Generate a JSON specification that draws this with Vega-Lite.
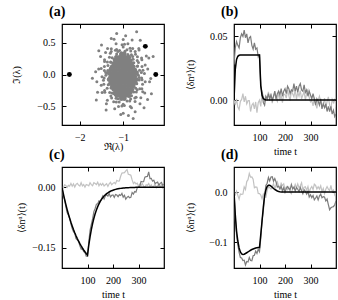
{
  "$schema": "https://vega.github.io/schema/vega-lite/v6.json",
  "padding": {"left": 10, "top": 3, "right": 0, "bottom": 0},
  "config": {
    "font": "Liberation Serif, DejaVu Serif, serif",
    "view": {"stroke": "black", "strokeWidth": 1.2},
    "axis": {"grid": false, "domain": false, "tickSize": -4, "tickColor": "black", "tickWidth": 1, "labelFont": "Liberation Serif, DejaVu Serif, serif", "labelFontSize": 10, "labelColor": "black", "labelPadding": 11, "titleFont": "Liberation Serif, DejaVu Serif, serif", "titleFontSize": 10, "titleFontWeight": "normal", "titleColor": "black"},
    "title": {"font": "Liberation Serif, DejaVu Serif, serif", "fontSize": 14, "fontWeight": "bold", "anchor": "start", "frame": "group", "dx": -13, "offset": 5, "color": "black"}
  },
  "columns": 2,
  "spacing": {"row": 42, "column": 70},
  "bounds": "flush",
  "concat": [
    {
      "width": 102, "height": 101,
      "title": "(a)",
      "layer": [
        {"data": {"name": "eigcore"}, "mark": {"type": "circle", "size": 21, "color": "#808080", "opacity": 1},
         "encoding": {
           "x": {"field": "re", "type": "quantitative", "scale": {"domain": [-2.41, -0.06], "nice": false, "zero": false}, "axis": {"values": [-2, -1], "format": "d", "title": "ℜ(λ)", "titleY": 21, "titleBaseline": "middle"}},
           "y": {"field": "im", "type": "quantitative", "scale": {"domain": [-0.79, 0.79], "nice": false, "zero": false}, "axis": {"values": [-0.5, 0, 0.5], "format": ".1f", "title": "ℑ(λ)", "titleX": -46, "titleBaseline": "middle"}}
         }},
        {"data": {"name": "eig"}, "mark": {"type": "circle", "size": 9, "color": "#808080", "opacity": 1},
         "encoding": {
           "x": {"field": "re", "type": "quantitative", "axis": null},
           "y": {"field": "im", "type": "quantitative", "axis": null}
         }},
        {"data": {"name": "eigb"}, "mark": {"type": "circle", "size": 24, "color": "black", "opacity": 1},
         "encoding": {
           "x": {"field": "re", "type": "quantitative", "axis": {"orient": "top", "values": [-2, -1], "labels": false, "title": null}},
           "y": {"field": "im", "type": "quantitative", "axis": {"orient": "right", "values": [-0.5, 0, 0.5], "labels": false, "title": null}}
         }}
      ],
      "resolve": {"axis": {"x": "independent", "y": "independent"}}
    },
    {
      "width": 102, "height": 101,
      "title": "(b)",
      "data": {"name": "ts"},
      "layer": [
        {"mark": {"type": "line", "color": "#c2c2c2", "strokeWidth": 1.2, "clip": true},
         "encoding": {
           "x": {"field": "t", "type": "quantitative", "scale": {"domain": [0, 400], "nice": false}, "axis": {"values": [100, 200, 300], "title": "time t", "titleY": 26, "titleBaseline": "middle"}},
           "y": {"field": "bl", "type": "quantitative", "scale": {"domain": [-0.0196, 0.0598], "nice": false, "zero": false}, "axis": {"values": [0, 0.05], "format": ".2f", "title": "⟨δnᵅ⟩(t)", "titleX": -44, "titleBaseline": "middle"}}
         }},
        {"mark": {"type": "line", "color": "#7c7c7c", "strokeWidth": 1.2, "clip": true},
         "encoding": {
           "x": {"field": "t", "type": "quantitative", "axis": null},
           "y": {"field": "bd", "type": "quantitative", "axis": null}
         }},
        {"mark": {"type": "line", "color": "black", "strokeWidth": 1.5, "clip": true},
         "encoding": {
           "x": {"field": "t", "type": "quantitative", "axis": {"orient": "top", "values": [100, 200, 300], "labels": false, "title": null}},
           "y": {"field": "tb", "type": "quantitative", "axis": {"orient": "right", "values": [0, 0.05], "labels": false, "title": null}}
         }}
      ],
      "resolve": {"axis": {"x": "independent", "y": "independent"}}
    },
    {
      "width": 102, "height": 101,
      "title": "(c)",
      "data": {"name": "ts"},
      "layer": [
        {"mark": {"type": "line", "color": "#c2c2c2", "strokeWidth": 1.2, "clip": true},
         "encoding": {
           "x": {"field": "t", "type": "quantitative", "scale": {"domain": [0, 400], "nice": false}, "axis": {"values": [100, 200, 300], "title": "time t", "titleY": 26, "titleBaseline": "middle"}},
           "y": {"field": "cl", "type": "quantitative", "scale": {"domain": [-0.2, 0.05], "nice": false, "zero": false}, "axis": {"values": [-0.15, 0], "format": ".2f", "title": "⟨δnᵅ⟩(t)", "titleX": -41, "titleBaseline": "middle"}}
         }},
        {"mark": {"type": "line", "color": "#7c7c7c", "strokeWidth": 1.2, "clip": true},
         "encoding": {
           "x": {"field": "t", "type": "quantitative", "axis": null},
           "y": {"field": "cd", "type": "quantitative", "axis": null}
         }},
        {"mark": {"type": "line", "color": "black", "strokeWidth": 1.5, "clip": true},
         "encoding": {
           "x": {"field": "t", "type": "quantitative", "axis": {"orient": "top", "values": [100, 200, 300], "labels": false, "title": null}},
           "y": {"field": "tc", "type": "quantitative", "axis": {"orient": "right", "values": [-0.15, 0], "labels": false, "title": null}}
         }}
      ],
      "resolve": {"axis": {"x": "independent", "y": "independent"}}
    },
    {
      "width": 102, "height": 101,
      "title": "(d)",
      "data": {"name": "ts"},
      "layer": [
        {"mark": {"type": "line", "color": "#c2c2c2", "strokeWidth": 1.2, "clip": true},
         "encoding": {
           "x": {"field": "t", "type": "quantitative", "scale": {"domain": [0, 400], "nice": false}, "axis": {"values": [100, 200, 300], "title": "time t", "titleY": 26, "titleBaseline": "middle"}},
           "y": {"field": "dl", "type": "quantitative", "scale": {"domain": [-0.152, 0.05], "nice": false, "zero": false}, "axis": {"values": [-0.1, 0], "format": ".1f", "title": "⟨δnᵅ⟩(t)", "titleX": -44, "titleBaseline": "middle"}}
         }},
        {"mark": {"type": "line", "color": "#7c7c7c", "strokeWidth": 1.2, "clip": true},
         "encoding": {
           "x": {"field": "t", "type": "quantitative", "axis": null},
           "y": {"field": "dd", "type": "quantitative", "axis": null}
         }},
        {"mark": {"type": "line", "color": "black", "strokeWidth": 1.5, "clip": true},
         "encoding": {
           "x": {"field": "t", "type": "quantitative", "axis": {"orient": "top", "values": [100, 200, 300], "labels": false, "title": null}},
           "y": {"field": "td", "type": "quantitative", "axis": {"orient": "right", "values": [-0.1, 0], "labels": false, "title": null}}
         }}
      ],
      "resolve": {"axis": {"x": "independent", "y": "independent"}}
    }
  ],
  "datasets": {
    "eigb": [{"re": -2.24, "im": 0}, {"re": -0.25, "im": 0}, {"re": -0.49, "im": 0.44}],
    "eigcore": [
      {"re": -1.29, "im": -0.03}, {"re": -1.22, "im": -0.03}, {"re": -1.15, "im": -0.03}, {"re": -1.08, "im": -0.03}, {"re": -1.01, "im": -0.03}, {"re": -0.94, "im": -0.03}, {"re": -0.87, "im": -0.03}, {"re": -0.80, "im": -0.03}, {"re": -0.73, "im": -0.03},
      {"re": -1.325, "im": 0.02}, {"re": -1.255, "im": 0.02}, {"re": -1.185, "im": 0.02}, {"re": -1.115, "im": 0.02}, {"re": -1.045, "im": 0.02}, {"re": -0.975, "im": 0.02}, {"re": -0.905, "im": 0.02}, {"re": -0.835, "im": 0.02}, {"re": -0.765, "im": 0.02}, {"re": -0.695, "im": 0.02},
      {"re": -1.325, "im": -0.08}, {"re": -1.255, "im": -0.08}, {"re": -1.185, "im": -0.08}, {"re": -1.115, "im": -0.08}, {"re": -1.045, "im": -0.08}, {"re": -0.975, "im": -0.08}, {"re": -0.905, "im": -0.08}, {"re": -0.835, "im": -0.08}, {"re": -0.765, "im": -0.08}, {"re": -0.695, "im": -0.08},
      {"re": -1.29, "im": 0.07}, {"re": -1.22, "im": 0.07}, {"re": -1.15, "im": 0.07}, {"re": -1.08, "im": 0.07}, {"re": -1.01, "im": 0.07}, {"re": -0.94, "im": 0.07}, {"re": -0.87, "im": 0.07}, {"re": -0.80, "im": 0.07}, {"re": -0.73, "im": 0.07},
      {"re": -1.29, "im": -0.13}, {"re": -1.22, "im": -0.13}, {"re": -1.15, "im": -0.13}, {"re": -1.08, "im": -0.13}, {"re": -1.01, "im": -0.13}, {"re": -0.94, "im": -0.13}, {"re": -0.87, "im": -0.13}, {"re": -0.80, "im": -0.13}, {"re": -0.73, "im": -0.13},
      {"re": -1.255, "im": 0.12}, {"re": -1.185, "im": 0.12}, {"re": -1.115, "im": 0.12}, {"re": -1.045, "im": 0.12}, {"re": -0.975, "im": 0.12}, {"re": -0.905, "im": 0.12}, {"re": -0.835, "im": 0.12}, {"re": -0.765, "im": 0.12},
      {"re": -1.255, "im": -0.18}, {"re": -1.185, "im": -0.18}, {"re": -1.115, "im": -0.18}, {"re": -1.045, "im": -0.18}, {"re": -0.975, "im": -0.18}, {"re": -0.905, "im": -0.18}, {"re": -0.835, "im": -0.18}, {"re": -0.765, "im": -0.18},
      {"re": -1.22, "im": 0.17}, {"re": -1.15, "im": 0.17}, {"re": -1.08, "im": 0.17}, {"re": -1.01, "im": 0.17}, {"re": -0.94, "im": 0.17}, {"re": -0.87, "im": 0.17}, {"re": -0.80, "im": 0.17},
      {"re": -1.22, "im": -0.23}, {"re": -1.15, "im": -0.23}, {"re": -1.08, "im": -0.23}, {"re": -1.01, "im": -0.23}, {"re": -0.94, "im": -0.23}, {"re": -0.87, "im": -0.23}, {"re": -0.80, "im": -0.23},
      {"re": -1.185, "im": 0.22}, {"re": -1.115, "im": 0.22}, {"re": -1.045, "im": 0.22}, {"re": -0.975, "im": 0.22}, {"re": -0.905, "im": 0.22}, {"re": -0.835, "im": 0.22},
      {"re": -1.185, "im": -0.28}, {"re": -1.115, "im": -0.28}, {"re": -1.045, "im": -0.28}, {"re": -0.975, "im": -0.28}, {"re": -0.905, "im": -0.28}, {"re": -0.835, "im": -0.28},
      {"re": -1.15, "im": 0.27}, {"re": -1.08, "im": 0.27}, {"re": -1.01, "im": 0.27}, {"re": -0.94, "im": 0.27}, {"re": -0.87, "im": 0.27},
      {"re": -1.15, "im": -0.33}, {"re": -1.08, "im": -0.33}, {"re": -1.01, "im": -0.33}, {"re": -0.94, "im": -0.33}, {"re": -0.87, "im": -0.33},
      {"re": -1.045, "im": 0.32}, {"re": -0.975, "im": 0.32}, {"re": -1.045, "im": -0.38}, {"re": -0.975, "im": -0.38}
    ],
    "eig": [
      {"re": -0.675, "im": 0.04}, {"re": -0.674, "im": 0.131}, {"re": -0.755, "im": 0.183}, {"re": -0.782, "im": 0.282}, {"re": -0.882, "im": 0.288}, {"re": -0.963, "im": 0.335}, {"re": -1.049, "im": 0.292}, {"re": -1.151, "im": 0.319}, {"re": -1.207, "im": 0.238}, {"re": -1.289, "im": 0.194}, {"re": -1.294, "im": 0.1}, {"re": -1.369, "im": 0.028}, {"re": -1.325, "im": -0.06}, {"re": -1.326, "im": -0.151}, {"re": -1.245, "im": -0.203}, {"re": -1.218, "im": -0.302}, {"re": -1.118, "im": -0.308}, {"re": -1.037, "im": -0.355}, {"re": -0.951, "im": -0.312}, {"re": -0.849, "im": -0.339}, {"re": -0.793, "im": -0.258}, {"re": -0.711, "im": -0.214}, {"re": -0.706, "im": -0.12}, {"re": -0.631, "im": -0.048},
      {"re": -0.65, "im": -0.01}, {"re": -0.623, "im": 0.068}, {"re": -0.668, "im": 0.134}, {"re": -0.677, "im": 0.218}, {"re": -0.771, "im": 0.238}, {"re": -0.811, "im": 0.308}, {"re": -0.892, "im": 0.313}, {"re": -0.96, "im": 0.362}, {"re": -1.038, "im": 0.342}, {"re": -1.123, "im": 0.359}, {"re": -1.172, "im": 0.279}, {"re": -1.253, "im": 0.263}, {"re": -1.283, "im": 0.19}, {"re": -1.352, "im": 0.142}, {"re": -1.356, "im": 0.064}, {"re": -1.399, "im": -0.01}, {"re": -1.336, "im": -0.079}, {"re": -1.345, "im": -0.159}, {"re": -1.283, "im": -0.21}, {"re": -1.258, "im": -0.288}, {"re": -1.182, "im": -0.316}, {"re": -1.123, "im": -0.379}, {"re": -1.036, "im": -0.341}, {"re": -0.961, "im": -0.375}, {"re": -0.892, "im": -0.333}, {"re": -0.808, "im": -0.334}, {"re": -0.757, "im": -0.273}, {"re": -0.677, "im": -0.238}, {"re": -0.687, "im": -0.146}, {"re": -0.63, "im": -0.086},
      {"re": -0.582, "im": 0.033}, {"re": -0.567, "im": 0.127}, {"re": -0.648, "im": 0.187}, {"re": -0.672, "im": 0.277}, {"re": -0.724, "im": 0.359}, {"re": -0.826, "im": 0.369}, {"re": -0.913, "im": 0.389}, {"re": -1.0, "im": 0.432}, {"re": -1.084, "im": 0.376}, {"re": -1.179, "im": 0.381}, {"re": -1.276, "im": 0.359}, {"re": -1.317, "im": 0.268}, {"re": -1.364, "im": 0.194}, {"re": -1.433, "im": 0.127}, {"re": -1.404, "im": 0.031}, {"re": -1.439, "im": -0.055}, {"re": -1.446, "im": -0.151}, {"re": -1.37, "im": -0.217}, {"re": -1.312, "im": -0.283}, {"re": -1.267, "im": -0.368}, {"re": -1.165, "im": -0.37}, {"re": -1.092, "im": -0.429}, {"re": -1.0, "im": -0.466}, {"re": -0.911, "im": -0.416}, {"re": -0.829, "im": -0.383}, {"re": -0.733, "im": -0.368}, {"re": -0.698, "im": -0.274}, {"re": -0.618, "im": -0.224}, {"re": -0.554, "im": -0.151}, {"re": -0.575, "im": -0.053},
      {"re": -0.545, "im": 0.068}, {"re": -0.57, "im": 0.231}, {"re": -0.717, "im": 0.318}, {"re": -0.842, "im": 0.412}, {"re": -0.97, "im": 0.473}, {"re": -1.151, "im": 0.393}, {"re": -1.297, "im": 0.334}, {"re": -1.43, "im": 0.231}, {"re": -1.434, "im": 0.064}, {"re": -1.455, "im": -0.088}, {"re": -1.43, "im": -0.251}, {"re": -1.284, "im": -0.338}, {"re": -1.158, "im": -0.432}, {"re": -1.03, "im": -0.493}, {"re": -0.849, "im": -0.413}, {"re": -0.703, "im": -0.354}, {"re": -0.55, "im": -0.27}, {"re": -0.566, "im": -0.084},
      {"re": -0.511, "im": 0.015}, {"re": -0.494, "im": 0.15}, {"re": -0.577, "im": 0.257}, {"re": -0.635, "im": 0.384}, {"re": -0.781, "im": 0.408}, {"re": -0.892, "im": 0.482}, {"re": -1.026, "im": 0.465}, {"re": -1.164, "im": 0.482}, {"re": -1.274, "im": 0.401}, {"re": -1.406, "im": 0.345}, {"re": -1.43, "im": 0.203}, {"re": -1.507, "im": 0.095}, {"re": -1.489, "im": -0.035}, {"re": -1.506, "im": -0.17}, {"re": -1.423, "im": -0.277}, {"re": -1.365, "im": -0.404}, {"re": -1.219, "im": -0.428}, {"re": -1.108, "im": -0.502}, {"re": -0.974, "im": -0.485}, {"re": -0.836, "im": -0.502}, {"re": -0.726, "im": -0.421}, {"re": -0.594, "im": -0.365}, {"re": -0.57, "im": -0.223}, {"re": -0.493, "im": -0.115},
      {"re": -0.435, "im": 0.087}, {"re": -0.467, "im": 0.289}, {"re": -0.64, "im": 0.407}, {"re": -0.794, "im": 0.54}, {"re": -1.0, "im": 0.548}, {"re": -1.211, "im": 0.552}, {"re": -1.36, "im": 0.407}, {"re": -1.521, "im": 0.282}, {"re": -1.565, "im": 0.087}, {"re": -1.607, "im": -0.114}, {"re": -1.485, "im": -0.282}, {"re": -1.387, "im": -0.458}, {"re": -1.196, "im": -0.534}, {"re": -1.0, "im": -0.608}, {"re": -0.809, "im": -0.521}, {"re": -0.613, "im": -0.458}, {"re": -0.503, "im": -0.289}, {"re": -0.393, "im": -0.114},
      {"re": -0.41, "im": 0.257}, {"re": -0.607, "im": 0.536}, {"re": -0.944, "im": 0.606}, {"re": -1.275, "im": 0.563}, {"re": -1.562, "im": 0.372}, {"re": -1.635, "im": 0.044}, {"re": -1.59, "im": -0.277}, {"re": -1.393, "im": -0.556}, {"re": -1.056, "im": -0.626}, {"re": -0.725, "im": -0.583}, {"re": -0.438, "im": -0.392}, {"re": -0.365, "im": -0.064},
      {"re": -0.69, "im": 0.67}, {"re": -0.77, "im": -0.69}, {"re": -1.71, "im": -0.06}, {"re": -0.31, "im": 0.28}, {"re": -0.35, "im": -0.3}, {"re": -1.15, "im": 0.64}, {"re": -0.88, "im": -0.64}, {"re": -1.5, "im": 0.46}, {"re": -0.52, "im": -0.52}, {"re": -1.62, "im": -0.4}
    ],
    "ts": [
      {"t": 0, "tb": 0, "bl": 0, "bd": 0.028, "tc": 0, "cl": 0, "cd": 0, "td": 0, "dl": 0, "dd": 0},
      {"t": 5, "tb": 0.0241, "bl": -0.004, "bd": 0.041, "tc": -0.0152, "cl": -0.002, "cd": -0.0212, "td": -0.045, "dl": -0.0055, "dd": -0.052},
      {"t": 10, "tb": 0.0319, "bl": 0.001, "bd": 0.046, "tc": -0.0294, "cl": 0.006, "cd": -0.0302, "td": -0.078, "dl": 0.0016, "dd": -0.086},
      {"t": 15, "tb": 0.0344, "bl": -0.0055, "bd": 0.043, "tc": -0.0426, "cl": 0.0045, "cd": -0.0474, "td": -0.098, "dl": -0.0067, "dd": -0.106},
      {"t": 20, "tb": 0.0352, "bl": -0.0075, "bd": 0.041, "tc": -0.0549, "cl": -0.0005, "cd": -0.0625, "td": -0.112, "dl": -0.0143, "dd": -0.121},
      {"t": 25, "tb": 0.0354, "bl": -0.001, "bd": 0.049, "tc": -0.0664, "cl": 0.0045, "cd": -0.0688, "td": -0.12, "dl": -0.0038, "dd": -0.131},
      {"t": 30, "tb": 0.0355, "bl": 0.0005, "bd": 0.052, "tc": -0.077, "cl": 0.0025, "cd": -0.077, "td": -0.124, "dl": -0.0046, "dd": -0.132},
      {"t": 35, "tb": 0.0355, "bl": 0.005, "bd": 0.05, "tc": -0.087, "cl": 0.0095, "cd": -0.0906, "td": -0.125, "dl": -0.0041, "dd": -0.137},
      {"t": 40, "tb": 0.0355, "bl": -0.0015, "bd": 0.055, "tc": -0.0962, "cl": 0.0025, "cd": -0.1026, "td": -0.1245, "dl": 0.0103, "dd": -0.1365},
      {"t": 45, "tb": 0.0355, "bl": 0.003, "bd": 0.049, "tc": -0.1048, "cl": 0.008, "cd": -0.11, "td": -0.123, "dl": 0.0051, "dd": -0.146},
      {"t": 50, "tb": 0.0355, "bl": -0.003, "bd": 0.052, "tc": -0.1128, "cl": 0.0005, "cd": -0.114, "td": -0.1215, "dl": 0.0208, "dd": -0.139},
      {"t": 55, "tb": 0.0355, "bl": -0.0005, "bd": 0.045, "tc": -0.1203, "cl": 0.007, "cd": -0.1275, "td": -0.12, "dl": 0.0246, "dd": -0.14},
      {"t": 60, "tb": 0.0355, "bl": -0.0005, "bd": 0.049, "tc": -0.1272, "cl": 0.0095, "cd": -0.1304, "td": -0.118, "dl": 0.0369, "dd": -0.131},
      {"t": 65, "tb": 0.0355, "bl": -0.009, "bd": 0.05, "tc": -0.1337, "cl": 0.005, "cd": -0.1341, "td": -0.1165, "dl": 0.0298, "dd": -0.137},
      {"t": 70, "tb": 0.0355, "bl": -0.004, "bd": 0.043, "tc": -0.1397, "cl": 0.003, "cd": -0.1453, "td": -0.115, "dl": 0.03, "dd": -0.1375},
      {"t": 75, "tb": 0.0355, "bl": -0.0025, "bd": 0.04, "tc": -0.1453, "cl": 0.011, "cd": -0.1533, "td": -0.114, "dl": 0.0255, "dd": -0.1275},
      {"t": 80, "tb": 0.0355, "bl": -0.007, "bd": 0.045, "tc": -0.1505, "cl": 0.003, "cd": -0.1525, "td": -0.113, "dl": 0.0084, "dd": -0.1265},
      {"t": 85, "tb": 0.0355, "bl": -0.0015, "bd": 0.04, "tc": -0.1554, "cl": 0.0065, "cd": -0.1594, "td": -0.112, "dl": 0.0101, "dd": -0.118},
      {"t": 90, "tb": 0.0355, "bl": -0.01, "bd": 0.041, "tc": -0.1599, "cl": 0.0, "cd": -0.1615, "td": -0.1115, "dl": 0.0096, "dd": -0.123},
      {"t": 95, "tb": 0.0355, "bl": -0.002, "bd": 0.034, "tc": -0.1641, "cl": 0.0065, "cd": -0.1709, "td": -0.111, "dl": -0.0028, "dd": -0.1145},
      {"t": 100, "tb": 0.0355, "bl": 0.0, "bd": 0.036, "tc": -0.168, "cl": 0.0055, "cd": -0.1708, "td": -0.111, "dl": -0.0033, "dd": -0.1195},
      {"t": 105, "tb": 0.0114, "bl": -0.005, "bd": 0.011, "tc": -0.1437, "cl": 0.0035, "cd": -0.1358, "td": -0.085, "dl": -0.0059, "dd": -0.0925},
      {"t": 110, "tb": 0.0037, "bl": 0.006, "bd": 0.006, "tc": -0.1229, "cl": 0.011, "cd": -0.1068, "td": -0.058, "dl": -0.0135, "dd": -0.0565},
      {"t": 115, "tb": 0.0012, "bl": 0.0035, "bd": -0.002, "tc": -0.1051, "cl": 0.0065, "cd": -0.092, "td": -0.03, "dl": -0.0044, "dd": -0.038},
      {"t": 120, "tb": 0.0004, "bl": -0.0015, "bd": -0.004, "tc": -0.0899, "cl": 0.0035, "cd": -0.0786, "td": -0.008, "dl": -0.0094, "dd": -0.007},
      {"t": 125, "tb": 0, "bl": 0.0025, "bd": 0.003, "tc": -0.0769, "cl": 0.011, "cd": -0.0604, "td": 0.004, "dl": -0.0103, "dd": 0.013},
      {"t": 130, "tb": 0, "bl": 0.0005, "bd": 0.001, "tc": -0.0658, "cl": 0.009, "cd": -0.0526, "td": 0.011, "dl": 0.0028, "dd": 0.0175},
      {"t": 135, "tb": 0, "bl": 0.0065, "bd": 0.005, "tc": -0.0563, "cl": 0.0065, "cd": -0.042, "td": 0.0135, "dl": 0.011, "dd": 0.029},
      {"t": 140, "tb": 0, "bl": -0.0005, "bd": 0.001, "tc": -0.0481, "cl": 0.0125, "cd": -0.0412, "td": 0.0135, "dl": 0.0087, "dd": 0.022},
      {"t": 145, "tb": 0, "bl": 0.005, "bd": 0.004, "tc": -0.0412, "cl": 0.0035, "cd": -0.0336, "td": 0.012, "dl": 0.0058, "dd": 0.03},
      {"t": 150, "tb": 0, "bl": -0.0025, "bd": 0.0, "tc": -0.0352, "cl": 0.009, "cd": -0.0354, "td": 0.0095, "dl": 0.0099, "dd": 0.0305},
      {"t": 155, "tb": 0, "bl": 0.003, "bd": 0.003, "tc": -0.0301, "cl": 0.005, "cd": -0.0285, "td": 0.007, "dl": 0.0169, "dd": 0.0215},
      {"t": 160, "tb": 0, "bl": 0.0055, "bd": 0.007, "tc": -0.0258, "cl": 0.0095, "cd": -0.0215, "td": 0.005, "dl": 0.0064, "dd": 0.027},
      {"t": 165, "tb": 0, "bl": 0.001, "bd": 0.001, "tc": -0.022, "cl": 0.003, "cd": -0.029, "td": 0.0035, "dl": 0.0144, "dd": 0.02},
      {"t": 170, "tb": 0, "bl": -0.001, "bd": 0.005, "tc": -0.0189, "cl": 0.006, "cd": -0.022, "td": 0.002, "dl": 0.0203, "dd": 0.01},
      {"t": 175, "tb": 0, "bl": 0.007, "bd": 0.007, "tc": -0.0161, "cl": 0.0085, "cd": -0.0185, "td": 0.001, "dl": 0.0122, "dd": 0.0115},
      {"t": 180, "tb": 0, "bl": 0.0, "bd": 0.004, "tc": -0.0138, "cl": 0.002, "cd": -0.022, "td": 0.0005, "dl": 0.008, "dd": 0.006},
      {"t": 185, "tb": 0, "bl": 0.0035, "bd": 0.009, "tc": -0.0118, "cl": 0.0085, "cd": -0.0155, "td": 0.0002, "dl": 0.0175, "dd": 0.0115},
      {"t": 190, "tb": 0, "bl": -0.002, "bd": 0.003, "tc": -0.0101, "cl": 0.012, "cd": -0.024, "td": 0, "dl": 0.013, "dd": 0.002},
      {"t": 195, "tb": 0, "bl": 0.0045, "bd": 0.007, "tc": -0.0086, "cl": 0.006, "cd": -0.02, "td": 0, "dl": 0.0162, "dd": 0.0085},
      {"t": 200, "tb": 0, "bl": 0.0045, "bd": 0.009, "tc": -0.0074, "cl": 0.0095, "cd": -0.019, "td": 0, "dl": 0.0051, "dd": -0.0005},
      {"t": 205, "tb": 0, "bl": 0.0015, "bd": 0.005, "tc": -0.0063, "cl": 0.0115, "cd": -0.025, "td": 0, "dl": 0.0101, "dd": 0.007},
      {"t": 210, "tb": 0, "bl": 0.008, "bd": 0.011, "tc": -0.0054, "cl": 0.0085, "cd": -0.018, "td": 0, "dl": 0.0046, "dd": 0.011},
      {"t": 215, "tb": 0, "bl": 0.0035, "bd": 0.009, "tc": -0.0046, "cl": 0.017, "cd": -0.0195, "td": 0, "dl": 0.0096, "dd": 0.007},
      {"t": 220, "tb": 0, "bl": -0.0005, "bd": 0.005, "tc": -0.004, "cl": 0.015, "cd": -0.0235, "td": 0, "dl": -0.0005, "dd": 0.0045},
      {"t": 225, "tb": 0, "bl": 0.007, "bd": 0.008, "tc": -0.0034, "cl": 0.0155, "cd": -0.0185, "td": 0, "dl": -0.0033, "dd": 0.015},
      {"t": 230, "tb": 0, "bl": 0.005, "bd": 0.007, "tc": -0.0029, "cl": 0.027, "cd": -0.0205, "td": 0, "dl": 0.0068, "dd": 0.0065},
      {"t": 235, "tb": 0, "bl": 0.0025, "bd": 0.013, "tc": -0.0025, "cl": 0.035, "cd": -0.0155, "td": 0, "dl": 0.0067, "dd": 0.01},
      {"t": 240, "tb": 0, "bl": 0.0085, "bd": 0.007, "tc": -0.0021, "cl": 0.0355, "cd": -0.0245, "td": 0, "dl": 0.015, "dd": 0.002},
      {"t": 245, "tb": 0, "bl": 0.0005, "bd": 0.011, "tc": -0.0018, "cl": 0.036, "cd": -0.02, "td": 0, "dl": 0.0079, "dd": 0.009},
      {"t": 250, "tb": 0, "bl": 0.006, "bd": 0.006, "tc": -0.0015, "cl": 0.0405, "cd": -0.0295, "td": 0, "dl": 0.0162, "dd": 0.0055},
      {"t": 255, "tb": 0, "bl": 0.003, "bd": 0.011, "tc": -0.0013, "cl": 0.0435, "cd": -0.025, "td": 0, "dl": 0.0088, "dd": 0.001},
      {"t": 260, "tb": 0, "bl": 0.0075, "bd": 0.013, "tc": -0.0011, "cl": 0.032, "cd": -0.0225, "td": 0, "dl": 0.0123, "dd": 0.009},
      {"t": 265, "tb": 0, "bl": 0.001, "bd": 0.008, "tc": -0.001, "cl": 0.031, "cd": -0.026, "td": 0, "dl": 0.0183, "dd": 0.0025},
      {"t": 270, "tb": 0, "bl": 0.004, "bd": 0.007, "tc": -0.0008, "cl": 0.0295, "cd": -0.025, "td": 0, "dl": 0.0044, "dd": -0.0035},
      {"t": 275, "tb": 0, "bl": 0.0065, "bd": 0.012, "tc": -0.0007, "cl": 0.018, "cd": -0.013, "td": 0, "dl": 0.0094, "dd": 0.0045},
      {"t": 280, "tb": 0, "bl": 0.0, "bd": 0.006, "tc": -0.0006, "cl": 0.009, "cd": -0.017, "td": 0, "dl": 0.0105, "dd": 0.0012},
      {"t": 285, "tb": 0, "bl": 0.0055, "bd": 0.008, "tc": -0.0005, "cl": 0.0125, "cd": -0.0105, "td": 0, "dl": 0.0032, "dd": -0.004},
      {"t": 290, "tb": 0, "bl": 0.008, "bd": 0.003, "tc": -0.0004, "cl": 0.008, "cd": -0.012, "td": 0, "dl": 0.0109, "dd": 0.0014},
      {"t": 295, "tb": 0, "bl": 0.002, "bd": 0.007, "tc": -0.0004, "cl": 0.01, "cd": -0.0015, "td": 0, "dl": -0.001, "dd": -0.01},
      {"t": 300, "tb": 0, "bl": -0.0015, "bd": 0.004, "tc": -0.0003, "cl": 0.0025, "cd": 0.0005, "td": 0, "dl": 0.007, "dd": -0.0056},
      {"t": 305, "tb": 0, "bl": -0.0005, "bd": 0.001, "tc": -0.0003, "cl": 0.0075, "cd": 0.0025, "td": 0, "dl": 0.0108, "dd": -0.0112},
      {"t": 310, "tb": 0, "bl": -0.0045, "bd": 0.005, "tc": -0.0002, "cl": 0.004, "cd": 0.014, "td": 0, "dl": 0.0048, "dd": -0.0068},
      {"t": 315, "tb": 0, "bl": 0.002, "bd": 0.001, "tc": -0.0002, "cl": 0.009, "cd": 0.0135, "td": 0, "dl": 0.0156, "dd": -0.0156},
      {"t": 320, "tb": 0, "bl": -0.003, "bd": -0.004, "tc": -0.0002, "cl": 0.0025, "cd": 0.0135, "td": 0, "dl": 0.0131, "dd": -0.012},
      {"t": 325, "tb": 0, "bl": -0.0065, "bd": 0.001, "tc": -0.0001, "cl": -0.0005, "cd": 0.025, "td": 0, "dl": 0.0061, "dd": -0.008},
      {"t": 330, "tb": 0, "bl": 0.0, "bd": -0.001, "tc": 0, "cl": 0.006, "cd": 0.026, "td": 0, "dl": 0.0107, "dd": -0.0158},
      {"t": 335, "tb": 0, "bl": 0.003, "bd": -0.004, "tc": 0, "cl": 0.0045, "cd": 0.0265, "td": 0, "dl": 0.0059, "dd": -0.0082},
      {"t": 340, "tb": 0, "bl": -0.0015, "bd": 0.001, "tc": 0, "cl": 0.009, "cd": 0.038, "td": 0, "dl": 0.0123, "dd": -0.0042},
      {"t": 345, "tb": 0, "bl": -0.005, "bd": -0.007, "tc": 0, "cl": 0.0015, "cd": 0.0215, "td": 0, "dl": 0.0005, "dd": -0.0114},
      {"t": 350, "tb": 0, "bl": -0.0035, "bd": -0.003, "tc": 0, "cl": 0.006, "cd": 0.022, "td": 0, "dl": 0.0072, "dd": -0.0094},
      {"t": 355, "tb": 0, "bl": 0.0015, "bd": -0.006, "tc": 0, "cl": 0.0, "cd": 0.015, "td": 0, "dl": -0.0033, "dd": -0.0102},
      {"t": 360, "tb": 0, "bl": -0.006, "bd": -0.003, "tc": 0, "cl": 0.0025, "cd": 0.0175, "td": 0, "dl": 0.0054, "dd": -0.018},
      {"t": 365, "tb": 0, "bl": -0.001, "bd": -0.009, "tc": 0, "cl": 0.0075, "cd": 0.009, "td": 0, "dl": 0.0109, "dd": -0.0142},
      {"t": 370, "tb": 0, "bl": 0.0025, "bd": -0.005, "tc": 0, "cl": -0.001, "cd": 0.011, "td": 0, "dl": 0.0056, "dd": -0.0252},
      {"t": 375, "tb": 0, "bl": -0.004, "bd": -0.009, "tc": 0, "cl": 0.004, "cd": 0.0125, "td": 0, "dl": 0.0028, "dd": -0.0354},
      {"t": 380, "tb": 0, "bl": -0.007, "bd": -0.005, "tc": 0, "cl": 0.0055, "cd": 0.005, "td": 0, "dl": 0.013, "dd": -0.0316},
      {"t": 385, "tb": 0, "bl": 0.0005, "bd": -0.011, "tc": 0, "cl": 0.001, "cd": 0.0095, "td": 0, "dl": 0.0012, "dd": -0.03},
      {"t": 390, "tb": 0, "bl": -0.002, "bd": -0.008, "tc": 0, "cl": 0.0065, "cd": 0.012, "td": 0, "dl": 0.0041, "dd": -0.0294},
      {"t": 395, "tb": 0, "bl": 0.001, "bd": -0.013, "tc": 0, "cl": -0.002, "cd": 0.005, "td": 0, "dl": -0.0056, "dd": -0.0256},
      {"t": 400, "tb": 0, "bl": -0.0055, "bd": -0.011, "tc": 0, "cl": 0.003, "cd": 0.0075, "td": 0, "dl": 0.0015, "dd": -0.0178}
    ]
  }
}
